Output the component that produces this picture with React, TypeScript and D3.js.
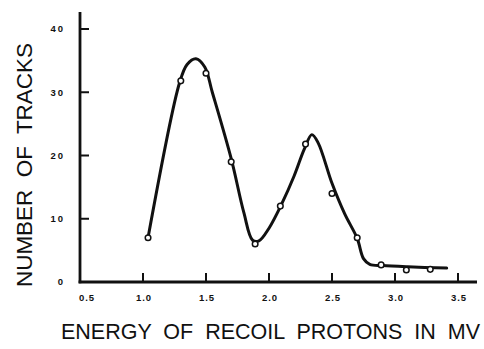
import { useRef, useEffect } from 'react'
import * as d3 from 'd3'

// measured points (energy in MV, number of tracks)
const energy = [1.04, 1.3, 1.5, 1.7, 1.89, 2.09, 2.29, 2.5, 2.7, 2.89, 3.09, 3.28]
const tracks = [7, 31.8, 33, 19, 6, 12, 21.8, 14, 7, 2.7, 1.9, 2]

// hand-drawn smooth curve through the data (knots)
const curveX = [1.04, 1.29, 1.35, 1.42, 1.49, 1.55, 1.7, 1.8, 1.87, 1.92, 2.0, 2.1, 2.2, 2.28, 2.34, 2.39, 2.5, 2.6, 2.7, 2.75, 2.8, 2.9, 3.1, 3.41]
const curveY = [7, 31.5, 34.4, 35.3, 34, 30, 19.5, 11, 6.6, 6.5, 8.5, 12.3, 16.8, 21, 23.3, 22, 15.6, 10.8, 6.9, 3.7, 2.8, 2.6, 2.4, 2.2]

const xTicks = [0.5, 1.0, 1.5, 2.0, 2.5, 3.0, 3.5]
const yTicks = [0, 10, 20, 30, 40]

const W = 484
const H = 349

export default function App() {
  const svgRef = useRef<SVGSVGElement>(null)

  useEffect(() => {
    const svg = d3.select(svgRef.current)
    svg.selectAll('*').remove()

    const x = d3.scaleLinear().domain([0.5, 3.5]).range([80, 458])
    const y = d3.scaleLinear().domain([0, 40]).range([282, 29])

    const ink = '#111'

    // axes
    svg.append('line')
      .attr('x1', 80).attr('x2', 80)
      .attr('y1', y(0) + 1.3).attr('y2', 12)
      .attr('stroke', ink).attr('stroke-width', 2.8)
    svg.append('line')
      .attr('x1', 78.6).attr('x2', 477)
      .attr('y1', y(0)).attr('y2', y(0))
      .attr('stroke', ink).attr('stroke-width', 2.8)

    // y ticks
    svg.selectAll('.yt')
      .data(yTicks.filter(d => d > 0))
      .enter().append('line')
      .attr('x1', 80).attr('x2', 89)
      .attr('y1', d => y(d)).attr('y2', d => y(d))
      .attr('stroke', ink).attr('stroke-width', 2)

    svg.selectAll('.yl')
      .data(yTicks)
      .enter().append('text')
      .attr('x', 65).attr('y', d => y(d))
      .attr('dy', '0.35em')
      .attr('text-anchor', 'end')
      .attr('font-family', 'Liberation Sans, Arial, sans-serif')
      .attr('font-weight', 'bold')
      .attr('font-size', 9.5)
      .attr('letter-spacing', 2)
      .attr('fill', ink)
      .text(d => String(d))

    // x ticks
    svg.selectAll('.xt')
      .data(xTicks.filter(d => d > 0.5))
      .enter().append('line')
      .attr('x1', d => x(d)).attr('x2', d => x(d))
      .attr('y1', y(0)).attr('y2', y(0) - 9)
      .attr('stroke', ink).attr('stroke-width', 2)

    svg.selectAll('.xl')
      .data(xTicks)
      .enter().append('text')
      .attr('x', d => x(d) + (d === 0.5 ? 7 : 1))
      .attr('y', 298)
      .attr('dy', '0.35em')
      .attr('text-anchor', 'middle')
      .attr('font-family', 'Liberation Sans, Arial, sans-serif')
      .attr('font-weight', 'bold')
      .attr('font-size', 9.5)
      .attr('letter-spacing', 1)
      .attr('fill', ink)
      .text(d => d.toFixed(1))

    // curve
    const pts = curveX.map((cx, i) => [cx, curveY[i]] as [number, number])
    const line = d3.line<[number, number]>()
      .x(d => x(d[0]))
      .y(d => y(d[1]))
      .curve(d3.curveCatmullRom.alpha(0.5))
    svg.append('path')
      .datum(pts)
      .attr('d', line)
      .attr('fill', 'none')
      .attr('stroke', ink)
      .attr('stroke-width', 3)
      .attr('stroke-linejoin', 'round')
      .attr('stroke-linecap', 'round')

    // data points
    svg.selectAll('.pt')
      .data(energy.map((e, i) => [e, tracks[i]] as [number, number]))
      .enter().append('circle')
      .attr('cx', d => x(d[0]))
      .attr('cy', d => y(d[1]))
      .attr('r', 2.8)
      .attr('fill', '#fff')
      .attr('stroke', ink)
      .attr('stroke-width', 1.5)

    // axis titles
    svg.append('text')
      .attr('x', 61).attr('y', 339)
      .attr('textLength', 419)
      .attr('lengthAdjust', 'spacing')
      .attr('font-family', 'Liberation Sans, Arial, sans-serif')
      .attr('font-size', 21.5)
      .attr('fill', ink)
      .text('ENERGY  OF  RECOIL  PROTONS  IN  MV')
      .style('white-space', 'pre')

    svg.append('text')
      .attr('transform', 'translate(32,287) rotate(-90)')
      .attr('textLength', 244)
      .attr('lengthAdjust', 'spacing')
      .attr('font-family', 'Liberation Sans, Arial, sans-serif')
      .attr('font-size', 22.5)
      .attr('fill', ink)
      .text('NUMBER  OF  TRACKS')
      .style('white-space', 'pre')
  }, [])

  return (
    <svg
      ref={svgRef}
      width={W}
      height={H}
      style={{ position: 'absolute', left: 0, top: 0, background: '#fff' }}
    />
  )
}
